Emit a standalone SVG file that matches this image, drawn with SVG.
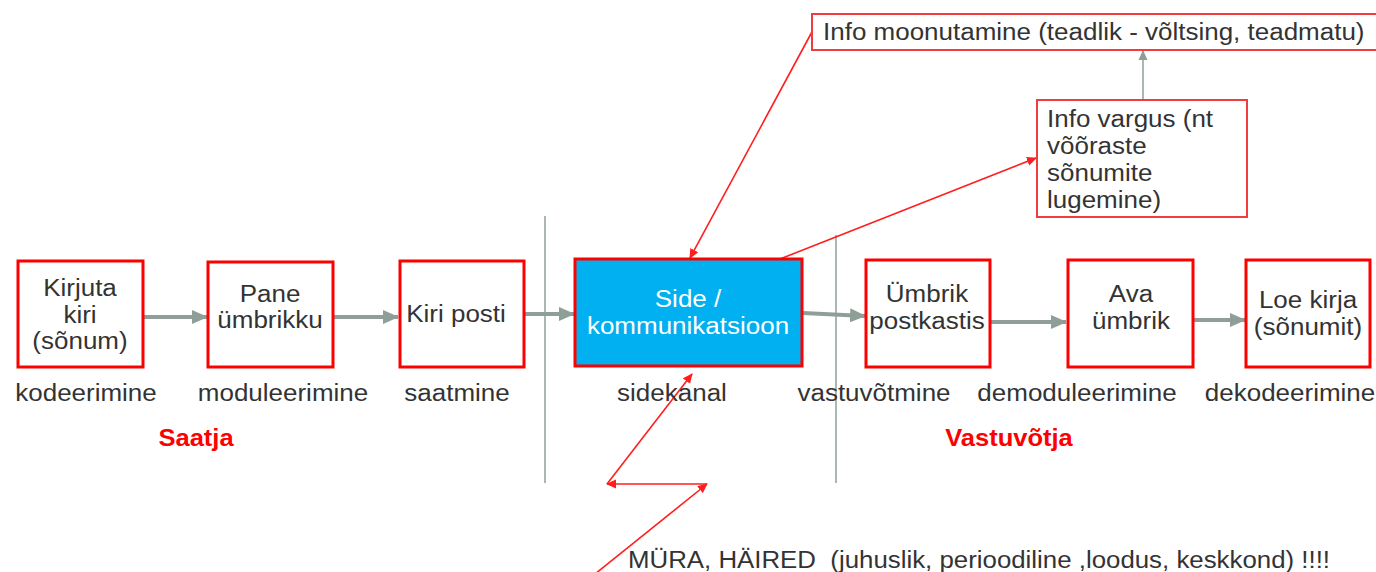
<svg xmlns="http://www.w3.org/2000/svg" width="1376" height="572" viewBox="0 0 1376 572">
  <style>
    .t { font-family: "Liberation Sans", Arial, sans-serif; font-size: 23px; fill: #333333; }
    .c { text-anchor: middle; }
    .w { fill: #ffffff; }
    .role { font-family: "Liberation Sans", Arial, sans-serif; font-size: 23px; font-weight: bold; fill: #ff0000; text-anchor: middle; }
    .box { fill: #ffffff; stroke: #ff0000; stroke-width: 3; }
    .info { fill: #ffffff; stroke: #f03c3c; stroke-width: 2; }
    .flow { fill: none; stroke: #8f9f97; stroke-width: 4; marker-end: url(#grayHead); }
    .red { fill: none; stroke: #ff1e1e; stroke-width: 1.6; marker-end: url(#redHead); }
    .rule { stroke: #8f9f97; stroke-width: 1.5; }
  </style>
  <defs>
    <marker id="grayHead" markerUnits="userSpaceOnUse" markerWidth="16" markerHeight="14" refX="15" refY="7" orient="auto">
      <path d="M0,0 L16,7 L0,14 Z" fill="#8f9f97"/>
    </marker>
    <marker id="thinGray" markerUnits="userSpaceOnUse" markerWidth="10" markerHeight="10" refX="9" refY="5" orient="auto">
      <path d="M0,0.5 L10,5 L0,9.5 Z" fill="#8f9f97"/>
    </marker>
    <marker id="redHead" markerUnits="userSpaceOnUse" markerWidth="10" markerHeight="10" refX="9" refY="5" orient="auto">
      <path d="M0,0.5 L10,5 L0,9.5 Z" fill="#ff1e1e"/>
    </marker>
  </defs>

  <rect width="1376" height="572" fill="#ffffff"/>

  <!-- separators between sender, channel and receiver -->
  <g id="separators">
    <line class="rule" x1="545" y1="216" x2="545" y2="483"/>
    <line class="rule" x1="836" y1="235" x2="836" y2="483"/>
  </g>

  <!-- connectors -->
  <g id="connectors">
    <line class="flow" x1="143" y1="317" x2="207" y2="317"/>
    <line class="flow" x1="333" y1="317" x2="398" y2="317"/>
    <line class="flow" x1="524" y1="314" x2="574" y2="314"/>
    <line class="flow" x1="803" y1="313" x2="865" y2="316"/>
    <line class="flow" x1="990" y1="322" x2="1066" y2="322"/>
    <line class="flow" x1="1193" y1="320" x2="1245" y2="320"/>
    <line stroke="#8f9f97" stroke-width="1.5" marker-end="url(#thinGray)" x1="1143" y1="99" x2="1143" y2="51"/>
    <line class="red" x1="813" y1="30" x2="690" y2="258"/>
    <line class="red" x1="780" y1="259" x2="1036" y2="158"/>
    <line class="red" x1="595" y1="574" x2="707" y2="484"/>
    <line class="red" x1="707" y1="484" x2="607" y2="484"/>
    <line class="red" x1="607" y1="484" x2="692" y2="374"/>
  </g>

  <!-- sender side (text is widened slightly with a horizontal scale) -->
  <g id="kirjuta">
    <rect class="box" x="18" y="261" width="125" height="106"/>
    <g transform="translate(80,0) scale(1.13,1)">
      <text class="t c" x="0" y="296">Kirjuta</text>
      <text class="t c" x="0" y="323">kiri</text>
      <text class="t c" x="0" y="349">(sõnum)</text>
    </g>
  </g>
  <g id="pane">
    <rect class="box" x="208" y="262" width="125" height="105"/>
    <g transform="translate(270,0) scale(1.13,1)">
      <text class="t c" x="0" y="302">Pane</text>
      <text class="t c" x="0" y="328">ümbrikku</text>
    </g>
  </g>
  <g id="posti">
    <rect class="box" x="400" y="261" width="124" height="106"/>
    <g transform="translate(456,0) scale(1.13,1)">
      <text class="t c" x="0" y="322">Kiri posti</text>
    </g>
  </g>

  <!-- channel -->
  <g id="side">
    <rect x="575" y="259" width="227" height="107" fill="#00b0f0" stroke="#ff0000" stroke-width="3"/>
    <g transform="translate(688,0) scale(1.13,1)">
      <text class="t c w" x="0" y="307">Side /</text>
      <text class="t c w" x="0" y="334">kommunikatsioon</text>
    </g>
  </g>

  <!-- receiver side -->
  <g id="postkast">
    <rect class="box" x="866" y="260" width="124" height="107"/>
    <g transform="translate(927,0) scale(1.13,1)">
      <text class="t c" x="0" y="302">Ümbrik</text>
      <text class="t c" x="0" y="329">postkastis</text>
    </g>
  </g>
  <g id="ava">
    <rect class="box" x="1068" y="260" width="125" height="107"/>
    <g transform="translate(1131,0) scale(1.13,1)">
      <text class="t c" x="0" y="302">Ava</text>
      <text class="t c" x="0" y="329">ümbrik</text>
    </g>
  </g>
  <g id="loe">
    <rect class="box" x="1246" y="260" width="124" height="107"/>
    <g transform="translate(1308,0) scale(1.13,1)">
      <text class="t c" x="0" y="308">Loe kirja</text>
      <text class="t c" x="0" y="335">(sõnumit)</text>
    </g>
  </g>

  <!-- threats -->
  <g id="moonutamine">
    <rect class="info" x="812" y="14" width="570" height="36"/>
    <g transform="translate(823,0) scale(1.13,1)">
      <text class="t" x="0" y="40">Info moonutamine (teadlik - võltsing, teadmatu)</text>
    </g>
  </g>
  <g id="vargus">
    <rect class="info" x="1037" y="100" width="210" height="117"/>
    <g transform="translate(1047,0) scale(1.13,1)">
      <text class="t" x="0" y="127">Info vargus (nt</text>
      <text class="t" x="0" y="154">võõraste</text>
      <text class="t" x="0" y="181">sõnumite</text>
      <text class="t" x="0" y="208">lugemine)</text>
    </g>
  </g>

  <!-- stage labels -->
  <g id="labels">
    <text class="t c" transform="translate(86,0) scale(1.13,1)" y="401">kodeerimine</text>
    <text class="t c" transform="translate(283,0) scale(1.13,1)" y="401">moduleerimine</text>
    <text class="t c" transform="translate(457,0) scale(1.13,1)" y="401">saatmine</text>
    <text class="t c" transform="translate(672,0) scale(1.13,1)" y="401">sidekanal</text>
    <text class="t c" transform="translate(874,0) scale(1.13,1)" y="401">vastuvõtmine</text>
    <text class="t c" transform="translate(1077,0) scale(1.13,1)" y="401">demoduleerimine</text>
    <text class="t c" transform="translate(1290,0) scale(1.13,1)" y="401">dekodeerimine</text>
    <text class="role" transform="translate(196,0) scale(1.11,1)" y="446">Saatja</text>
    <text class="role" transform="translate(1009,0) scale(1.11,1)" y="446">Vastuvõtja</text>
  </g>

  <g id="myra">
    <text class="t" x="628" y="568" font-size="24" textLength="702" lengthAdjust="spacingAndGlyphs" xml:space="preserve">MÜRA, HÄIRED  (juhuslik, perioodiline ,loodus, keskkond) !!!!</text>
  </g>
</svg>
